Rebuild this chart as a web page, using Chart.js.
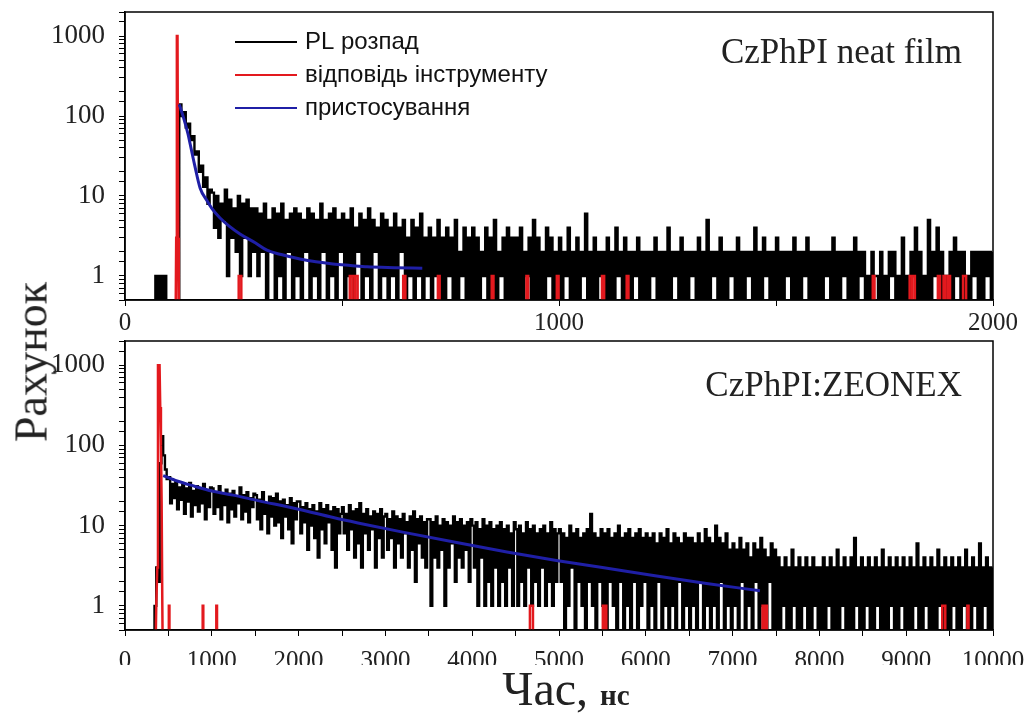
<!DOCTYPE html>
<html lang="uk">
<head>
<meta charset="UTF-8">
<title>Загасання PL: CzPhPI</title>
<script src="https://cdn.jsdelivr.net/npm/chart.js"></script>
<style>
    body { margin: 0; background: #fff; }
    #wrap { position: relative; width: 1030px; height: 725px; overflow: hidden; }
    canvas { position: absolute; left: 0; }
    #cTop { top: 0; }
    #cBot { top: 329px; }
    #ytitle {
        position: absolute; left: 31px; top: 362px;
        transform: translate(-50%, -50%) rotate(-90deg);
        font: 46px "Liberation Serif", "Times New Roman", serif;
        color: #222; white-space: nowrap;
    }
    #xtitle {
        position: absolute; left: 566px; top: 688px;
        transform: translate(-50%, -50%);
        font: 48px "Liberation Serif", "Times New Roman", serif;
        color: #222; white-space: nowrap;
    }
    #xtitle b { font-size: 29px; }
</style>
</head>
<body>
<div id="wrap">
    <canvas id="cTop" width="1030" height="335"></canvas>
    <canvas id="cBot" width="1030" height="336"></canvas>
    <div id="ytitle">Рахунок</div>
    <div id="xtitle">Час, <b>нс</b></div>
</div>

<script>
// ---- data ----
const seriesNames = ['PL розпад', 'відповідь інструменту', 'пристосування'];
const panelNames = ['CzPhPI neat film', 'CzPhPI:ZEONEX'];

// channel widths, ns
const chTop = 5;
const chBot = 20;

// PL decay counts, top panel (one value per 5 ns channel, from 0 ns)
const plTop = [
    0,0,0,0,0,0,0,0,0,0,0,0,0,0,1,0,1,0,1,0,
    0,0,0,0,0,140,100,112,72,80,50,56,33,36,20,24,13,17,8,12,
    11,4,10,3,8,5,12,1,9,3,7,2,10,1,8,3,9,1,7,2,
    7,1,6,2,8,0,5,2,7,0,6,1,8,0,5,2,6,0,7,1,
    6,0,5,2,7,0,6,1,5,0,8,2,5,0,6,1,7,0,5,2,
    6,0,5,1,7,0,4,2,6,0,5,1,7,0,5,2,4,0,6,1,
    5,0,4,1,6,0,4,2,5,0,3,1,5,0,4,1,6,0,3,1,
    4,0,3,1,5,0,3,0,4,1,3,0,5,0,2,1,4,0,3,0,
    4,0,3,0,2,1,4,0,3,0,5,0,2,1,3,0,4,0,3,0,
    3,0,4,0,2,1,3,0,5,0,3,0,2,0,4,1,3,0,2,0,
    3,0,2,1,4,0,2,0,3,0,2,1,6,0,2,0,3,0,2,1,
    2,0,3,0,2,0,4,1,2,0,3,0,2,0,2,1,3,0,2,0,
    2,0,2,1,3,0,2,0,2,0,4,0,2,1,2,0,3,0,2,0,
    2,1,2,0,3,0,2,0,5,0,2,1,2,0,3,0,2,0,2,1,
    2,0,3,0,2,0,2,1,2,0,4,0,2,0,3,1,2,0,2,0,
    3,0,2,0,2,1,2,0,3,0,2,0,2,1,3,0,2,0,2,0,
    2,0,2,1,2,0,3,0,2,0,2,1,2,0,2,0,3,0,2,1,
    2,0,1,0,2,1,1,0,2,0,1,0,2,1,2,0,1,0,3,0,
    1,0,2,1,4,0,2,0,1,0,5,0,2,1,4,0,2,0,1,0,
    2,0,3,1,2,0,2,0,1,0,2,1,2,0,2,0,2,1,2,0,
    2
];

// PL decay counts, bottom panel (one value per 20 ns channel, from 0 ns)
const plBot = [
    0,0,0,0,0,0,0,0,0,0,0,0,0,0,0,0,0,1,3,2,60,130,75,50,38,
    40,19,33,22,35,16,30,21,32,14,29,20,34,13,27,18,31,15,28,19,33,12,26,17,30,
    29,14,26,17,31,12,24,18,28,11,25,16,27,13,23,19,30,12,24,15,26,11,22,17,25,
    24,12,21,9,26,14,19,8,23,13,22,10,25,11,20,7,21,13,18,9,22,6,19,12,20,
    20,8,17,11,19,5,16,10,18,7,15,4,19,9,16,6,18,11,15,5,17,3,16,8,14,
    17,8,14,5,18,9,15,4,16,6,19,3,14,8,16,5,13,9,15,3,14,7,16,4,13,
    14,5,12,7,15,3,13,6,12,4,14,8,11,3,13,5,15,2,12,6,13,4,11,3,12,
    12,1,11,4,13,3,10,5,12,1,11,3,10,6,13,2,11,4,12,3,10,5,11,2,12,
    10,3,11,1,9,4,12,1,10,2,11,1,9,3,10,1,11,2,9,1,10,3,8,1,11,
    9,1,10,2,8,1,11,3,9,1,10,2,8,1,9,3,10,1,8,2,11,1,9,2,8,
    9,2,8,0,7,1,10,3,8,0,9,2,7,1,8,0,9,2,14,1,8,0,7,2,9,
    1,8,0,9,2,7,1,8,0,10,2,7,0,8,1,9,0,7,2,8,0,9,1,7,2,
    8,0,7,1,8,0,6,2,8,0,7,1,9,0,6,1,8,0,7,2,6,0,8,1,7,
    0,7,1,6,0,8,2,6,0,9,1,7,0,6,1,10,0,7,2,6,0,8,1,5,0,
    6,1,5,0,7,2,5,0,6,1,4,0,6,2,5,0,7,1,5,0,4,2,6,0,5,
    0,4,0,3,1,4,0,3,0,5,1,3,0,4,0,3,1,4,0,3,0,4,1,3,0,
    3,0,4,0,3,1,4,0,3,0,5,0,3,1,4,0,3,0,4,0,7,1,3,0,4,
    0,3,1,4,0,3,0,4,1,3,0,5,0,3,0,4,1,3,0,4,0,3,1,4,0,
    3,0,4,0,3,1,6,0,3,0,4,1,3,0,4,0,3,0,5,1,3,0,4,0,3,
    0,4,1,3,0,4,0,3,1,5,0,3,0,4,1,3,0,6,0,3,1,4,0,3,0,
    3
];

// instrument response (time ns, counts)
const irfTopT = [0,116,118,119.5,121,122.5,124,
    262,262,268,268,
    518,518,524,524, 524,524,530,530, 530,530,536,536,
    641,641,646,646, 721,721,725,725, 845,845,849,849, 925,925,929,929,
    995,995,999,999, 1099,1099,1104,1104, 1156,1156,1160,1160, 1723,1723,1727,1727,
    1808,1808,1814,1814, 1814,1814,1820,1820,
    1873,1873,1878,1878, 1886,1886,1890,1890, 1896,1896,1901,1901,
    1931,1931,1938,1938, 2000];
const irfTopN = [0,0,3,1000,1000,3,0,
    0,1,1,0,
    0,1,1,0, 0,1,1,0, 0,1,1,0,
    0,1,1,0, 0,1,1,0, 0,1,1,0, 0,1,1,0,
    0,1,1,0, 0,1,1,0, 0,1,1,0, 0,1,1,0,
    0,1,1,0, 0,1,1,0,
    0,1,1,0, 0,1,1,0, 0,1,1,0,
    0,1,1,0, 0];

const irfBotT = [0,345,360,372,380,398,406,414,422,430,438,
    505,505,512,512, 895,895,902,902, 1052,1052,1060,1060,
    4665,4665,4700,4700,
    5505,5505,5525,5525, 5525,5525,5545,5545,
    7345,7345,7370,7370, 7370,7370,7395,7395,
    9415,9415,9450,9450, 9705,9705,9718,9718, 10000];
const irfBotN = [0,0,1,3,1000,1000,300,100,20,1,0,
    0,1,1,0, 0,1,1,0, 0,1,1,0,
    0,1,1,0,
    0,1,1,0, 0,1,1,0,
    0,1,1,0, 0,1,1,0,
    0,1,1,0, 0,1,1,0, 0];

// fit curves (time ns, counts)
const fitTopT = [125,135,145,150,160,173,189,200,219,240,265,300,327,360,403,440,479,520,558,620,685];
const fitTopN = [140,95,60,45,25,12.6,8.7,7,5.3,4.2,3.35,2.6,2.1,1.85,1.63,1.5,1.41,1.35,1.3,1.27,1.25];

const fitBotT = [440,600,800,1000,1244,1532,2000,2400,2684,3200,3836,4400,4988,5500,6106,6700,7315];
const fitBotN = [42,36,31,27,24,20.5,16,12.6,10.8,8.3,6.1,4.7,3.65,3.0,2.37,1.9,1.54];

// axes
const xMaxTop = 2000;
const xMaxBot = 10000;
const yMin = 0.5, yMax = 2000;

// zero counts can't sit on a log axis: push them below the floor, they get clipped
const FLOOR = 0.1;
const fromChannels = (counts, ch) => counts.map((n, i) => ({ x: i * ch, y: n > 0 ? n : FLOOR }));
const fromPairs = (ts, ns) => ts.map((t, i) => ({ x: t, y: ns[i] > 0 ? ns[i] : FLOOR }));

const SERIF = '"Liberation Serif", "Times New Roman", serif';
const SANS = '"Liberation Sans", Arial, sans-serif';

// frame, panel caption and legend
const decor = {
    id: 'decor',
    afterDatasetsDraw(chart, args, opts) {
        const ctx = chart.ctx, a = chart.chartArea;
        ctx.save();
        ctx.strokeStyle = '#000';
        ctx.lineWidth = 1.5;
        ctx.strokeRect(a.left, a.top, a.right - a.left, a.bottom - a.top);

        ctx.fillStyle = '#222';
        ctx.font = '35px ' + SERIF;
        ctx.textAlign = 'right';
        ctx.textBaseline = 'alphabetic';
        ctx.fillText(opts.label, a.right - 31, a.top + opts.labelDy);

        if (opts.legend) {
            ctx.font = '24px ' + SANS;
            ctx.textAlign = 'left';
            ctx.textBaseline = 'middle';
            chart.data.datasets.forEach((ds, i) => {
                const y = a.top + 30 + i * 33;
                ctx.strokeStyle = ds.borderColor;
                ctx.lineWidth = 2;
                ctx.beginPath();
                ctx.moveTo(a.left + 110, y);
                ctx.lineTo(a.left + 172, y);
                ctx.stroke();
                ctx.fillStyle = '#111';
                ctx.fillText(ds.label, a.left + 180, y);
            });
        }
        ctx.restore();
    }
};

function isDecade(v) {
    const l = Math.log10(v);
    return v >= 1 && Math.abs(l - Math.round(l)) < 1e-9;
}

function panel(id, black, irf, fit, xMax, label, labelDy, legend, xPad) {
    return new Chart(document.getElementById(id), {
        type: 'line',
        data: {
            datasets: [
                { label: seriesNames[0], data: black, borderColor: '#000', borderWidth: 2.4,
                  stepped: true, pointRadius: 0, order: 2, clip: 0 },
                { label: seriesNames[1], data: irf, borderColor: '#e3191e', borderWidth: 2.5,
                  pointRadius: 0, order: 1, clip: 0 },
                { label: seriesNames[2], data: fit, borderColor: '#1f1fa6', borderWidth: 3,
                  pointRadius: 0, cubicInterpolationMode: 'monotone', order: 0, clip: 0 }
            ]
        },
        options: {
            responsive: false,
            animation: false,
            events: [],
            devicePixelRatio: 1,
            layout: { padding: { left: 0, right: 37, top: 12, bottom: 0 } },
            scales: {
                x: {
                    type: 'linear', min: 0, max: xMax,
                    afterFit(s) { s.height = 35; s.paddingLeft = 0; s.paddingRight = 0; },
                    border: { color: '#000', width: 1.5 },
                    grid: { drawOnChartArea: false, tickLength: 6, tickColor: '#000' },
                    ticks: {
                        stepSize: 500, autoSkip: false, maxRotation: 0, padding: xPad,
                        color: '#222', font: { family: SERIF, size: 25 },
                        callback: v => v % 1000 === 0 ? String(v) : ''
                    }
                },
                y: {
                    type: 'logarithmic', min: yMin, max: yMax,
                    afterFit(s) { s.width = 125; s.paddingTop = 0; s.paddingBottom = 0; },
                    border: { color: '#000', width: 1.5 },
                    grid: { drawOnChartArea: false, tickLength: 6, tickColor: '#000' },
                    ticks: {
                        autoSkip: false, padding: 14,
                        color: '#222', font: { family: SERIF, size: 27 },
                        callback: v => isDecade(v) ? String(v) : ''
                    }
                }
            },
            plugins: {
                legend: { display: false },
                tooltip: { enabled: false },
                decor: { label: label, labelDy: labelDy, legend: legend }
            }
        },
        plugins: [decor]
    });
}

panel('cTop', fromChannels(plTop, chTop), fromPairs(irfTopT, irfTopN), fromPairs(fitTopT, fitTopN),
      xMaxTop, panelNames[0], 51, true, 2);
panel('cBot', fromChannels(plBot, chBot), fromPairs(irfBotT, irfBotN), fromPairs(fitBotT, fitBotN),
      xMaxBot, panelNames[1], 55, false, 10);
</script>
</body>
</html>
